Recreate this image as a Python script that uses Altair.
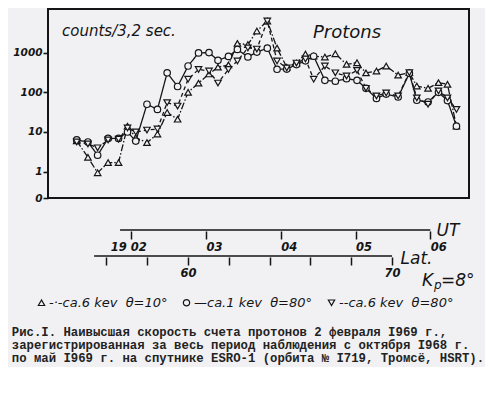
import altair as alt
import pandas as pd

BG = "#f1f1f4"
INK = "#151515"

# UT minutes after 19 h (sample times shared by the three channels)
ut_minutes = [1.27, 1.42, 1.55, 1.69, 1.83, 1.95, 2.06, 2.21, 2.35, 2.48,
              2.62, 2.76, 2.90, 3.04, 3.16, 3.30, 3.42, 3.56, 3.68, 3.82,
              3.95, 4.08, 4.21, 4.33, 4.44, 4.59, 4.73, 4.88, 5.02, 5.14,
              5.28, 5.41, 5.57, 5.72, 5.82, 5.97, 6.11, 6.23, 6.35]

counts_6kev_10deg = [6.0, 2.3, 0.94, 1.7, 1.7, 14, 7.2, 5.4, 8.9, 31,
                     21, 100, 170, 290, 430, 490, 1700, 1600, 3500, 6250,
                     1300, 430, 545, 920, 815, 775, 935, 507, 556, 308,
                     344, 458, 272, 312, 144, 126, 175, 159, 14]

counts_1kev_80deg = [6.3, 5.6, 2.6, 6.9, 6.9, 10, 5.9, 50, 37, 310,
                     140, 460, 980, 1000, 640, 800, 1200, 780, 1030, 1290,
                     380, 385, 500, 620, 810, 200, 190, 220, 200, 126,
                     70, 90, 76, 300, 63, 57, 100, 62, 14]

counts_6kev_80deg = [5.6, 5.0, 4.0, 6.3, 6.6, 12.6, 10, 11.2, 11.9, 55,
                     45, 213, 378, 344, 171, 378, 615, 1310, 1230, 6250,
                     615, 410, 545, 690, 213, 460, 310, 257, 357, 126,
                     81, 96, 81, 312, 72, 50, 108, 72, 37]

series_labels = ["-·-ca.6 kev\u00a0\u00a0θ=10°",
                 "—ca.1 kev\u00a0\u00a0θ=80°",
                 "--ca.6 kev\u00a0\u00a0θ=80°"]
series_shapes = ["triangle-up", "circle", "triangle-down"]
series_dashes = [[7, 2, 1.5, 2], [1, 0], [4, 3]]

y_tick_values = [0.2175, 1, 10, 100, 1000]
y_domain = [0.2175, 12540]

ut_domain = [0.886, 6.518]
ut_ticks = [2, 3, 4, 5, 6]
ut_line_span = [1.85, 6.0]

lat_domain = [53.14, 73.77]
lat_ticks = [56, 58, 60, 62, 64, 66, 68, 70]
lat_line_span = [55.4, 70.0]

caption_lines = [
    "\u00a0\u00a0\u00a0\u00a0\u00a0Рис.I. Наивысшая скорость счета протонов 2 февраля I969 г.,",
    "зарегистрированная за весь период наблюдения с октября I968 г.",
    "по май I969 г. на спутнике ESRO-1 (орбита № I719, Тромсё, HSRT).",
]

rows = []
for lab, vals in zip(series_labels, [counts_6kev_10deg, counts_1kev_80deg, counts_6kev_80deg]):
    for t, c in zip(ut_minutes, vals):
        rows.append({"ut": t, "counts": c, "series": lab})
df = pd.DataFrame(rows)

W = 421
H = 189

x_enc = alt.X("ut:Q", scale=alt.Scale(domain=ut_domain), axis=None)
y_enc = alt.Y("counts:Q",
              scale=alt.Scale(type="log", domain=y_domain),
              axis=alt.Axis(values=y_tick_values, format="d", title=None, grid=False,
                            domain=False, tickSize=5, tickWidth=1.6, tickColor=INK,
                            labelFont="DejaVu Sans", labelFontStyle="italic",
                            labelFontWeight="bold", labelFontSize=10.5,
                            labelPadding=1, labelColor=INK))

line_layers = []
for lab, dash in zip(series_labels, series_dashes):
    line_layers.append(
        alt.Chart(df).transform_filter(alt.datum.series == lab)
        .mark_line(color=INK, strokeWidth=1.3, strokeDash=dash)
        .encode(x=x_enc, y=y_enc)
    )

legend = alt.Legend(title=None, orient="none", legendX=-13, legendY=287,
                    direction="horizontal", columns=3, labelFont="DejaVu Sans",
                    labelFontStyle="italic", labelFontSize=13, labelColor=INK,
                    symbolSize=40, symbolStrokeWidth=1.2, columnPadding=12,
                    labelOffset=1)

points = alt.Chart(df).mark_point(filled=False, fill=BG, fillOpacity=1,
                                  strokeWidth=1.2, size=42, opacity=1).encode(
    x=x_enc, y=y_enc,
    color=alt.Color("series:N",
                    scale=alt.Scale(domain=series_labels, range=[INK, INK, INK]),
                    legend=legend),
    shape=alt.Shape("series:N",
                    scale=alt.Scale(domain=series_labels, range=series_shapes),
                    legend=legend),
)

counts_text = alt.Chart(pd.DataFrame({"t": ["counts/3,2 sec."]})).mark_text(
    align="left", baseline="alphabetic", font="DejaVu Sans", fontStyle="italic",
    fontSize=15, color=INK).encode(text="t:N", x=alt.value(14), y=alt.value(27))

protons_text = alt.Chart(pd.DataFrame({"t": ["Protons"]})).mark_text(
    align="left", baseline="alphabetic", font="DejaVu Sans", fontStyle="italic",
    fontSize=18, color=INK).encode(text="t:N", x=alt.value(265), y=alt.value(29))

main = alt.layer(*line_layers, points, counts_text, protons_text).properties(
    width=W, height=H, view=alt.ViewBackground(stroke=INK, strokeWidth=2))

# UT axis panel
ut_df = pd.DataFrame({"start": [ut_line_span[0]], "end": [ut_line_span[1]]})
ut_panel = alt.Chart(ut_df).mark_rule(color=INK, strokeWidth=1.6).encode(
    x=alt.X("start:Q", scale=alt.Scale(domain=ut_domain),
            axis=alt.Axis(values=ut_ticks, orient="bottom", domain=False, grid=False,
                          tickSize=8, tickWidth=1.5, tickColor=INK,
                          labelExpr="(datum.value == 2 ? '19 ' : '') + '0' + datum.label",
                          labelAlign="left", labelFlush=False,
                          labelOffset={"condition": {"test": "datum.value == 2", "value": -21},
                                       "value": 0},
                          labelFont="DejaVu Sans", labelFontStyle="italic",
                          labelFontWeight="bold", labelFontSize=11.5, labelPadding=2,
                          labelColor=INK,
                          title="UT", titleX=388, titleY=4, titleAlign="left",
                          titleBaseline="alphabetic", titleFont="DejaVu Sans",
                          titleFontStyle="italic", titleFontWeight="normal",
                          titleFontSize=17, titleColor=INK)),
    x2="end:Q",
    y=alt.value(0),
).properties(width=W, height=1)

# Latitude axis panel
lat_df = pd.DataFrame({"start": [lat_line_span[0]], "end": [lat_line_span[1]]})
lat_rule = alt.Chart(lat_df).mark_rule(color=INK, strokeWidth=1.6).encode(
    x=alt.X("start:Q", scale=alt.Scale(domain=lat_domain),
            axis=alt.Axis(values=lat_ticks, orient="bottom", domain=False, grid=False,
                          tickSize=8, tickWidth=1.5, tickColor=INK,
                          labelExpr="datum.value == 60 || datum.value == 70 ? datum.label : ''",
                          labelFlush=False, labelFont="DejaVu Sans",
                          labelFontStyle="italic", labelFontWeight="bold",
                          labelFontSize=11.5, labelPadding=2, labelColor=INK,
                          title="Lat.", titleX=352, titleY=6, titleAlign="left",
                          titleBaseline="alphabetic", titleFont="DejaVu Sans",
                          titleFontStyle="italic", titleFontWeight="normal",
                          titleFontSize=17, titleColor=INK)),
    x2="end:Q",
    y=alt.value(0),
)

def label(txt, x, y, size):
    return alt.Chart(pd.DataFrame({"t": [txt]})).mark_text(
        align="left", baseline="alphabetic", font="DejaVu Sans", fontStyle="italic",
        fontSize=size, color=INK).encode(text="t:N", x=alt.value(x), y=alt.value(y))

lat_panel = alt.layer(lat_rule, label("K", 374, 30, 17), label("p", 386, 33, 12),
                      label("=8°", 393, 30, 17)).properties(width=W, height=1)

chart = alt.vconcat(
    main,
    alt.vconcat(ut_panel, lat_panel, spacing=-4),
    spacing=16,
).properties(
    background=BG,
    padding={"left": 3, "top": 0, "right": 0, "bottom": 2},
    title=alt.TitleParams(text=caption_lines, orient="bottom", anchor="start",
                          font="Liberation Mono", fontSize=12.3, fontWeight="bold",
                          lineHeight=13, offset=16, color="#222"),
).configure_view(stroke=None)

chart.save("out.html", embed_options={"renderer": "svg", "actions": False})
